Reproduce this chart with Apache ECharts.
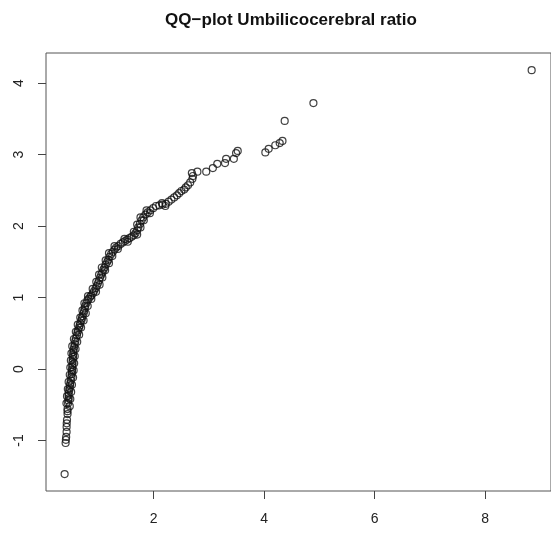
<!DOCTYPE html>
<html>
<head>
<meta charset="utf-8">
<script src="https://cdn.jsdelivr.net/npm/echarts@6/dist/echarts.min.js"></script>
<style>html,body{margin:0;padding:0;background:#fff;}#c{width:551px;height:533px;}</style>
</head>
<body>
<div id="c"></div>
<script>
var titleText = 'QQ\u2212plot Umbilicocerebral ratio';
var xTicks = [2, 4, 6, 8];
var yTicks = [-1, 0, 1, 2, 3, 4];
var sampleX = [0.387,0.405,0.41,0.415,0.423,0.423,0.425,0.43,0.44,0.44,0.44,0.45,0.455,0.46,0.46,0.46,0.47,0.477,0.485,0.49,0.50,0.51,0.515,0.52,0.52,0.525,0.53,0.53,0.535,0.54,0.54,0.545,0.55,0.56,0.57,0.58,0.59,0.61,0.62,0.63,0.65,0.66,0.67,0.69,0.70,0.71,0.73,0.74,0.75,0.76,0.78,0.80,0.82,0.85,0.87,0.90,0.92,0.95,0.97,0.99,1.01,1.03,1.05,1.07,1.09,1.11,1.13,1.16,1.18,1.20,1.23,1.26,1.29,1.32,1.36,1.40,1.44,1.48,1.52,1.56,1.60,1.64,1.67,1.70,1.72,1.75,1.78,1.81,1.85,1.89,1.94,1.99,2.04,2.10,2.16,2.22,2.27,2.32,2.37,2.42,2.46,2.50,2.55,2.58,2.62,2.66,2.70,2.71,2.69,2.79,2.95,3.07,3.15,3.29,3.31,3.45,3.49,3.52,4.02,4.08,4.20,4.28,4.33,4.37,4.89,8.84,
  0.48,0.49,0.505,0.52,0.54,0.55,0.56,0.57,0.585,0.615,0.65,0.685,0.73,0.77,0.805,0.87,0.955,1.02,1.07,1.12,1.19,1.25,1.35,1.53,1.70,1.76,1.82,1.93,2.21,
  0.42,0.43,0.445,0.46,0.48,0.49,0.50,0.51,0.525,0.555,0.59,0.625,0.67,0.71,0.745,0.81,0.895,0.96,1.01,1.06,1.13,1.19,1.29,1.47,1.64,1.70,1.76,1.87,2.15];
var quantY = [-1.469,-1.035,-0.99,-0.95,-0.88,-0.81,-0.76,-0.71,-0.63,-0.59,-0.56,-0.48,-0.44,-0.41,-0.37,-0.34,-0.30,-0.27,-0.23,-0.20,-0.16,-0.11,-0.07,-0.04,-0.01,0.03,0.06,0.10,0.14,0.17,0.20,0.24,0.27,0.31,0.35,0.39,0.43,0.47,0.51,0.54,0.58,0.61,0.64,0.68,0.71,0.74,0.78,0.81,0.85,0.88,0.92,0.96,0.98,1.01,1.03,1.06,1.09,1.13,1.16,1.20,1.24,1.28,1.32,1.35,1.39,1.42,1.46,1.50,1.53,1.57,1.61,1.64,1.67,1.70,1.72,1.75,1.77,1.79,1.81,1.83,1.85,1.87,1.90,1.94,1.98,2.03,2.08,2.12,2.16,2.19,2.22,2.25,2.28,2.29,2.30,2.31,2.34,2.37,2.40,2.43,2.46,2.49,2.51,2.54,2.57,2.61,2.66,2.70,2.74,2.76,2.76,2.81,2.87,2.88,2.94,2.94,3.02,3.05,3.03,3.08,3.13,3.16,3.19,3.47,3.72,4.18,
  -0.52,-0.42,-0.32,-0.22,-0.12,-0.02,0.08,0.18,0.28,0.38,0.48,0.58,0.68,0.78,0.88,0.98,1.08,1.18,1.28,1.38,1.48,1.58,1.68,1.78,1.88,1.98,2.08,2.18,2.28,
  -0.48,-0.38,-0.28,-0.18,-0.08,0.02,0.12,0.22,0.32,0.42,0.52,0.62,0.72,0.82,0.92,1.02,1.12,1.22,1.32,1.42,1.52,1.62,1.72,1.82,1.92,2.02,2.12,2.22,2.32];

var pts = sampleX.map(function (x, i) { return [x, quantY[i]]; });
var chart = echarts.init(document.getElementById('c'), null, {renderer: 'canvas'});
var axisFont = {color: '#222', fontSize: 14, fontFamily: 'Liberation Sans, Arial, sans-serif'};
chart.setOption({
  animation: false,
  backgroundColor: '#fff',
  title: {
    text: titleText, left: 286, top: 7, textAlign: 'center',
    textStyle: {fontSize: 17, fontWeight: 'bold', color: '#111', fontFamily: 'Liberation Sans, Arial, sans-serif'}
  },
  grid: {left: 46, top: 53, bottom: 42, right: -5, show: true, borderColor: '#555', borderWidth: 1, backgroundColor: 'transparent', containLabel: false},
  xAxis: {
    type: 'value', min: 0.05, max: 9.19,
    axisLine: {show: false, onZero: false},
    splitLine: {show: false},
    axisTick: {show: true, inside: false, length: 8, customValues: xTicks, lineStyle: {color: '#444'}},
    axisLabel: Object.assign({margin: 21, customValues: xTicks}, axisFont)
  },
  yAxis: {
    type: 'value', min: -1.706, max: 4.42,
    axisLine: {show: false, onZero: false},
    splitLine: {show: false},
    axisTick: {show: true, inside: false, length: 8, customValues: yTicks, lineStyle: {color: '#444'}},
    axisLabel: Object.assign({margin: 20, rotate: 90, customValues: yTicks}, axisFont)
  },
  series: [{
    type: 'scatter',
    data: pts,
    symbol: 'circle',
    symbolSize: 7,
    itemStyle: {color: 'rgba(0,0,0,0)', borderColor: '#111', borderWidth: 1.2},
    emphasis: {disabled: true}
  }]
});
</script>
</body>
</html>
